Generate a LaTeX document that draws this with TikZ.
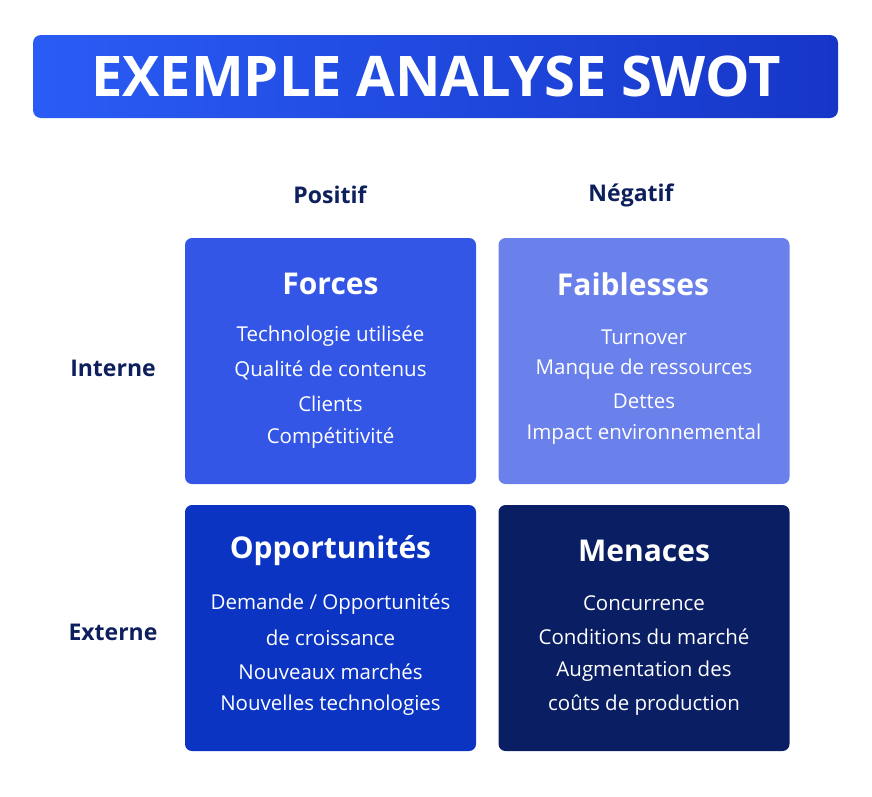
\documentclass[tikz,border=0pt]{standalone}
\usepackage{fontspec}
\setmainfont{Open Sans}
\usetikzlibrary{positioning}
\definecolor{navy}{HTML}{0D1F5C}
\definecolor{cF}{HTML}{3456E6}
\definecolor{cW}{HTML}{6A80EA}
\definecolor{cO}{HTML}{0B34C2}
\definecolor{cM}{HTML}{0A1E63}
\definecolor{tA}{HTML}{2A5CF5}
\definecolor{tB}{HTML}{1636C8}
\tikzset{
 quad/.style={rounded corners=7pt, minimum width=291pt, minimum height=246pt, inner sep=0pt},
 qtitle/.style={text=white, font=\fontsize{30}{34}\selectfont\bfseries},
 qitem/.style={text=white, font=\fontsize{20.5}{24}\selectfont, align=center},
 axis/.style={text=navy, font=\fontsize{23}{26}\selectfont\bfseries}
}
\begin{document}
\begin{tikzpicture}[x=1pt,y=-1pt]
\useasboundingbox (0,0) rectangle (872,796);
\shade[left color=tA, right color=tB, rounded corners=8pt] (33,35) rectangle (838,118);
\node[text=white, font=\fontsize{56}{60}\selectfont\bfseries] (title) at (436,76) {EXEMPLE ANALYSE SWOT};
\node[axis] (pos) at (330,195) {Positif};
\node[axis] (neg) at (631,195) {Négatif};
\node[axis] (int) at (113,368) {Interne};
\node[axis] (ext) at (113,632) {Externe};
\node[quad, fill=cF] (F) at (330.5,361) {};
\node[quad, fill=cW] (W) at (644,361) {};
\node[quad, fill=cO] (O) at (330.5,628) {};
\node[quad, fill=cM] (M) at (644,628) {};
\node[qtitle] (Ft) at (330.5,284) {Forces};
\node[qtitle] (Wt) at (633,284) {Faiblesses};
\node[qtitle] (Ot) at (330.5,551) {Opportunités};
\node[qtitle] (Mt) at (644,551) {Menaces};
\foreach \t [count=\i] in {Technologie utilisée,Qualité de contenus,Clients,Compétitivité}
  \node[qitem] (f\i) at (330.5,302+34*\i) {\t};
\foreach \t [count=\i] in {Turnover,Manque de ressources,Dettes,Impact environnemental}
  \node[qitem] (w\i) at (644,304.5+32.4*\i) {\t};
\foreach \t [count=\i] in {Demande / Opportunités,de croissance,Nouveaux marchés,Nouvelles technologies}
  \node[qitem] (o\i) at (330.5,570.3+33.7*\i) {\t};
\foreach \t [count=\i] in {Concurrence,Conditions du marché,Augmentation des,coûts de production}
  \node[qitem] (m\i) at (644,569+34*\i) {\t};
\end{tikzpicture}
\end{document}
